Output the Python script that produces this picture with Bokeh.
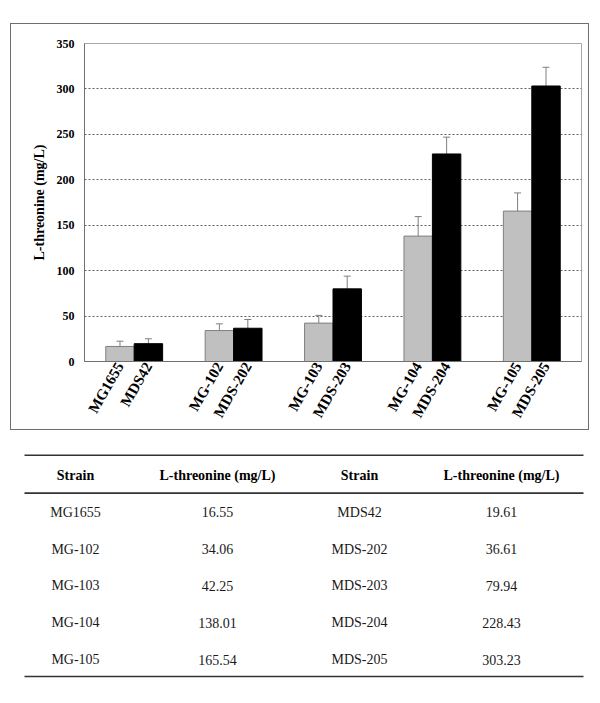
import math
from bokeh.plotting import figure
from bokeh.models import ColumnDataSource, Range1d, FixedTicker, Whisker, TeeHead
from bokeh.embed import file_html
from bokeh.resources import INLINE
from bokeh.core.properties import value

# ---------------- data ----------------
MG_STRAINS = ["MG1655", "MG-102", "MG-103", "MG-104", "MG-105"]
MDS_STRAINS = ["MDS42", "MDS-202", "MDS-203", "MDS-204", "MDS-205"]
MG_VALUES = [16.55, 34.06, 42.25, 138.01, 165.54]
MDS_VALUES = [19.61, 36.61, 79.94, 228.43, 303.23]
MG_ERR = [5.8, 7.4, 8.5, 21.5, 20.0]
MDS_ERR = [5.4, 9.6, 14.0, 18.5, 20.6]
Y_TICKS = [0, 50, 100, 150, 200, 250, 300, 350]
Y_LABEL = "L-threonine (mg/L)"
TABLE_HEADER = ["Strain", "L-threonine (mg/L)", "Strain", "L-threonine (mg/L)"]

FONT_NAME = "Liberation Serif"
FONT = value(FONT_NAME)
BAR_W = 0.286
n = len(MG_STRAINS)
grey_x = [i + 0.5 - BAR_W / 2 for i in range(n)]
black_x = [i + 0.5 + BAR_W / 2 for i in range(n)]

src_mg = ColumnDataSource(dict(x=grey_x, top=MG_VALUES,
                               upper=[v + e for v, e in zip(MG_VALUES, MG_ERR)]))
src_mds = ColumnDataSource(dict(x=black_x, top=MDS_VALUES,
                                upper=[v + e for v, e in zip(MDS_VALUES, MDS_ERR)]))

# ---------------- chart ----------------
p1 = figure(width=577, height=405, x_range=Range1d(0, n), y_range=Range1d(0, 350),
            toolbar_location=None, output_backend="svg", title=None,
            min_border_left=73, min_border_right=7, min_border_top=19, min_border_bottom=68,
            margin=(24, 0, 6, 11))
p1.styles = {"outline": "1px solid #6e6e6e"}
p1.outline_line_color = "#a8a8a8"
p1.background_fill_color = "white"
p1.border_fill_color = "white"

p1.vbar(x="x", top="top", width=BAR_W, source=src_mg,
        fill_color="#c0c0c0", line_color="#7f7f7f", line_width=1)
p1.vbar(x="x", top="top", width=BAR_W, source=src_mds,
        fill_color="#000000", line_color="#000000", line_width=1)

for src in (src_mg, src_mds):
    w = Whisker(base="x", lower="top", upper="upper", source=src,
                line_color="#7f7f7f", line_width=1, lower_head=None,
                upper_head=TeeHead(size=7, line_color="#7f7f7f", line_width=1))
    p1.add_layout(w)

p1.xgrid.visible = False
p1.ygrid.ticker = FixedTicker(ticks=Y_TICKS)
p1.ygrid.grid_line_color = "#606060"
p1.ygrid.grid_line_dash = "2 2"
p1.ygrid.grid_line_width = 1

ya = p1.yaxis[0]
ya.ticker = FixedTicker(ticks=Y_TICKS)
ya.axis_label = Y_LABEL
ya.axis_label_text_font = FONT_NAME
ya.axis_label_text_font_style = "bold"
ya.axis_label_text_font_size = "14px"
ya.axis_label_text_color = "black"
ya.axis_label_standoff = 7
ya.major_label_text_font = FONT_NAME
ya.major_label_text_font_style = "bold"
ya.major_label_text_font_size = "12px"
ya.major_label_text_color = "black"
ya.major_label_standoff = 10
ya.major_tick_out = 0
ya.major_tick_in = 0
ya.minor_tick_out = 0
ya.minor_tick_in = 0
ya.axis_line_color = "#707070"

xa = p1.xaxis[0]
ticks = grey_x + black_x
xa.ticker = FixedTicker(ticks=ticks)
xa.major_label_overrides = {t: s for t, s in zip(ticks, MG_STRAINS + MDS_STRAINS)}
xa.major_label_orientation = math.radians(60)
xa.major_label_text_font = FONT_NAME
xa.major_label_text_font_style = "bold"
xa.major_label_text_font_size = "15px"
xa.major_label_text_color = "black"
xa.major_label_standoff = 2
xa.major_tick_out = 0
xa.major_tick_in = 0
xa.minor_tick_out = 0
xa.minor_tick_in = 0
xa.axis_line_color = "#707070"

# ---------------- table ----------------
COL_STEP = 142.0
p2 = figure(width=584, height=260,
            x_range=Range1d(-67 / COL_STEP, 517 / COL_STEP),
            y_range=Range1d(5.978, -1.087),
            toolbar_location=None, output_backend="svg", title=None,
            x_axis_type=None, y_axis_type=None, min_border=0,
            margin=(0, 0, 0, 8))
p2.grid.visible = False
p2.outline_line_color = None

cols = list(range(len(TABLE_HEADER)))
p2.text(x=cols, y=[0] * len(cols), text=TABLE_HEADER, text_align="center",
        text_baseline="middle", text_font=FONT, text_font_style="bold",
        text_font_size="14px", text_color="black")

tx, ty, tt = [], [], []
for r in range(n):
    row = [MG_STRAINS[r], f"{MG_VALUES[r]:.2f}", MDS_STRAINS[r], f"{MDS_VALUES[r]:.2f}"]
    for c, s in enumerate(row):
        tx.append(c)
        ty.append(r + 1)
        tt.append(s)
p2.text(x=tx, y=ty, text=tt, text_align="center", text_baseline="middle",
        text_font=FONT, text_font_size="14px", text_color="#1a1a1a")

rule_y = [-0.55, 0.48, n + 0.46]
p2.segment(x0=[-51 / COL_STEP] * 3, x1=[508 / COL_STEP] * 3, y0=rule_y, y1=rule_y,
           line_color="#333333", line_width=1.6)

open("out.html", "w").write(file_html([p1, p2], INLINE))
